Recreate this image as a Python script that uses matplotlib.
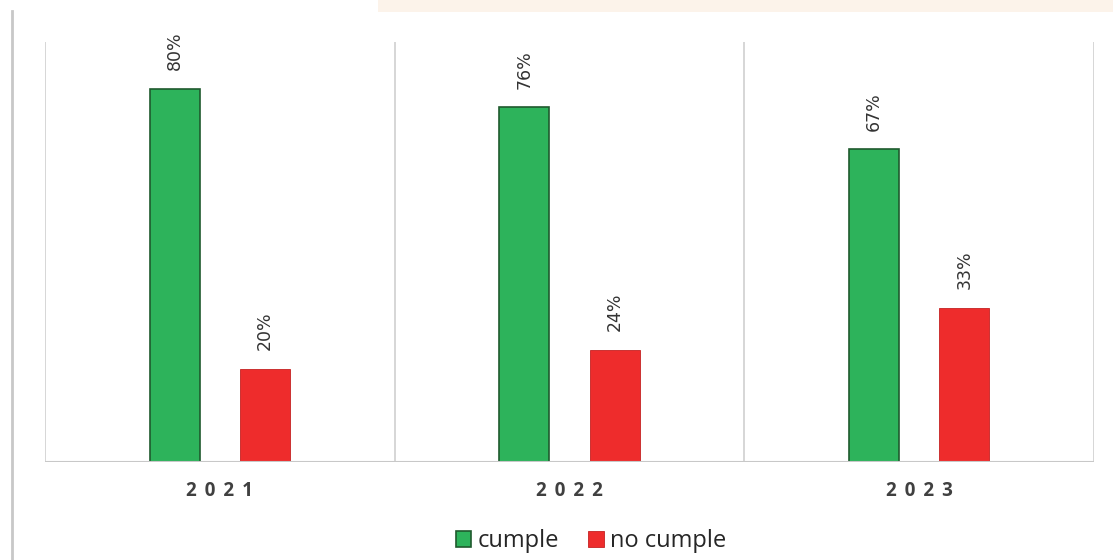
import matplotlib.pyplot as plt
import matplotlib.patches as patches
import numpy as np

years = ['2021', '2022', '2023']
cumple = [80, 76, 67]
no_cumple = [20, 24, 33]

plt.rcParams['font.family'] = ['Open Sans', 'DejaVu Sans']

fig = plt.figure(figsize=(11.13, 5.6), dpi=100)
ax = fig.add_axes([45 / 1113, 0.175, 1049 / 1113, 0.75])

x = np.arange(len(years))
w = 0.143
off = 0.129
green, green_edge = '#2DB35B', '#1F5A2E'
red, red_edge = '#EE2C2C', '#C42222'

b1 = ax.bar(x - off, cumple, w, color=green, edgecolor=green_edge, linewidth=1.2, label='cumple', zorder=3)
b2 = ax.bar(x + off, no_cumple, w, color=red, edgecolor=red_edge, linewidth=0.6, label='no cumple', zorder=3)

for bars, vals in ((b1, cumple), (b2, no_cumple)):
    for r, v in zip(bars, vals):
        ax.annotate(f'{v}%', (r.get_x() + r.get_width() / 2, v), xytext=(0, 13.5),
                    textcoords='offset points', rotation=90, ha='center', va='bottom',
                    fontsize=12.5, color='#333333', family='DejaVu Sans')

ax.set_xlim(-0.5, 2.5)
ax.set_ylim(0, 90)
for xv in (-0.5, 0.5, 1.5, 2.5):
    ax.axvline(xv, color='#D0D0D0', linewidth=1.2, zorder=1)
for s in ax.spines.values():
    s.set_visible(False)
ax.axhline(0, color='#C8C8C8', linewidth=1.5, zorder=4)
ax.set_yticks([])
ax.set_xticks(x)
ax.set_xticklabels([' \u2006'.join(y) for y in years], fontsize=13.5, color='#404040', fontweight='bold')
ax.tick_params(axis='x', length=0, pad=14)

leg = fig.legend(handles=[b1, b2], loc='center', bbox_to_anchor=(0.531, 0.034), ncol=2,
                 frameon=False, fontsize=17, handlelength=0.65, handleheight=0.65,
                 handletextpad=0.25, columnspacing=1.25)
for t in leg.get_texts():
    t.set_color('#262626')

# page decorations from the source image
fig.add_artist(plt.Line2D([0.011, 0.011], [0.0, 0.98], color='#C8C8C8', linewidth=2))
fig.add_artist(patches.Rectangle((0.34, 0.978), 0.66, 0.022, transform=fig.transFigure,
                                 color='#FCF3EA', linewidth=0))

fig.savefig('out.png', dpi=100)
